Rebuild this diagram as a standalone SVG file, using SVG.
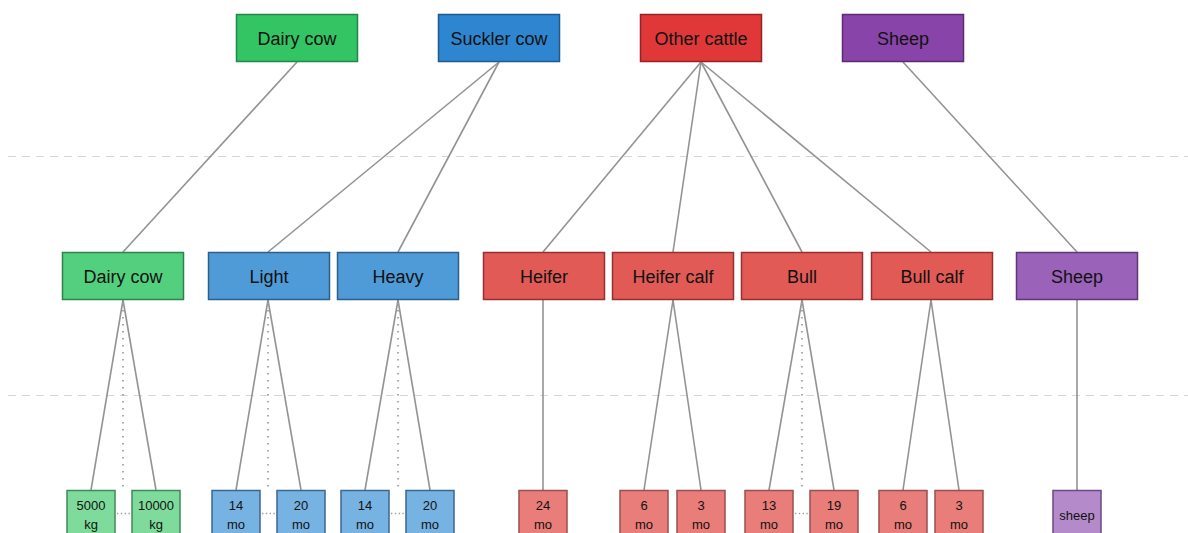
<svg xmlns="http://www.w3.org/2000/svg" width="1188" height="533" viewBox="0 0 1188 533">
<style>
text{font-family:"Liberation Sans",Arial,sans-serif;fill:#111;text-anchor:middle}
.big{font-size:18px}
.sm{font-size:13px}
rect{stroke-width:1.5}
.edge{stroke:#939393;stroke-width:1.6;fill:none}
.dot{stroke:#a0a0a0;stroke-width:1.8;stroke-dasharray:1.6 5.4;fill:none}
.hdot{stroke:#a0a0a0;stroke-width:1.6;stroke-dasharray:1.4 2.4;fill:none}
.guide{stroke:#d6d6d6;stroke-width:1;stroke-dasharray:8 6;fill:none}
.g1{fill:#33c463;stroke:#23864a}.b1{fill:#2f86d0;stroke:#1f5a8f}.r1{fill:#e03838;stroke:#962222}.p1{fill:#8944a9;stroke:#5b2a72}
.g2{fill:#52d07e;stroke:#2f8250}.b2{fill:#4f9bd7;stroke:#2b5f8c}.r2{fill:#e15a55;stroke:#963030}.p2{fill:#9b62b9;stroke:#5e3777}
.g3{fill:#7edb9b;stroke:#3f8a5a}.b3{fill:#77b3e2;stroke:#3a6790}.r3{fill:#e87d79;stroke:#985050}.p3{fill:#b58aca;stroke:#6a4a80}
</style>
<g id="guides">
<line class="guide" x1="8" y1="156.5" x2="1188" y2="156.5"/>
<line class="guide" x1="8" y1="395.5" x2="1188" y2="395.5"/>
</g>
<g id="connectors">
<line class="edge" x1="297" y1="62" x2="123" y2="252"/>
<line class="edge" x1="499" y1="62" x2="268" y2="252"/>
<line class="edge" x1="499" y1="62" x2="398" y2="252"/>
<line class="edge" x1="701" y1="62" x2="543" y2="252"/>
<line class="edge" x1="701" y1="62" x2="673" y2="252"/>
<line class="edge" x1="701" y1="62" x2="802" y2="252"/>
<line class="edge" x1="701" y1="62" x2="931" y2="252"/>
<line class="edge" x1="903" y1="62" x2="1077" y2="252"/>
<line class="edge" x1="123" y1="300" x2="91" y2="490"/>
<line class="edge" x1="123" y1="300" x2="156" y2="490"/>
<line class="dot" x1="123" y1="303" x2="123" y2="490"/>
<line class="hdot" x1="117" y1="513.5" x2="131" y2="513.5"/>
<line class="edge" x1="268" y1="300" x2="236" y2="490"/>
<line class="edge" x1="268" y1="300" x2="301" y2="490"/>
<line class="dot" x1="268" y1="303" x2="268" y2="490"/>
<line class="hdot" x1="262" y1="513.5" x2="276" y2="513.5"/>
<line class="edge" x1="398" y1="300" x2="365" y2="490"/>
<line class="edge" x1="398" y1="300" x2="430" y2="490"/>
<line class="dot" x1="398" y1="303" x2="398" y2="490"/>
<line class="hdot" x1="391" y1="513.5" x2="405" y2="513.5"/>
<line class="edge" x1="543" y1="300" x2="543" y2="490"/>
<line class="edge" x1="673" y1="300" x2="644" y2="490"/>
<line class="edge" x1="673" y1="300" x2="701" y2="490"/>
<line class="edge" x1="802" y1="300" x2="769" y2="490"/>
<line class="edge" x1="802" y1="300" x2="834" y2="490"/>
<line class="dot" x1="802" y1="303" x2="802" y2="490"/>
<line class="hdot" x1="795" y1="513.5" x2="809" y2="513.5"/>
<line class="edge" x1="931" y1="300" x2="903" y2="490"/>
<line class="edge" x1="931" y1="300" x2="959" y2="490"/>
<line class="edge" x1="1077" y1="300" x2="1077" y2="490"/>
</g>
<g id="top-dairy"><rect class="g1" x="236.5" y="14.5" width="121" height="47"/><text class="big" x="297" y="44.5">Dairy cow</text></g>
<g id="top-suckler"><rect class="b1" x="438.5" y="14.5" width="121" height="47"/><text class="big" x="499" y="44.5">Suckler cow</text></g>
<g id="top-other"><rect class="r1" x="640.5" y="14.5" width="121" height="47"/><text class="big" x="701" y="44.5">Other cattle</text></g>
<g id="top-sheep"><rect class="p1" x="842.5" y="14.5" width="121" height="47"/><text class="big" x="903" y="44.5">Sheep</text></g>

<g id="mid-dairy"><rect class="g2" x="62.5" y="252.5" width="121" height="47"/><text class="big" x="123" y="282.5">Dairy cow</text></g>
<g id="mid-light"><rect class="b2" x="208.5" y="252.5" width="121" height="47"/><text class="big" x="269" y="282.5">Light</text></g>
<g id="mid-heavy"><rect class="b2" x="337.5" y="252.5" width="121" height="47"/><text class="big" x="398" y="282.5">Heavy</text></g>
<g id="mid-heifer"><rect class="r2" x="483.5" y="252.5" width="121" height="47"/><text class="big" x="544" y="282.5">Heifer</text></g>
<g id="mid-heifercalf"><rect class="r2" x="612.5" y="252.5" width="121" height="47"/><text class="big" x="673" y="282.5">Heifer calf</text></g>
<g id="mid-bull"><rect class="r2" x="741.5" y="252.5" width="121" height="47"/><text class="big" x="802" y="282.5">Bull</text></g>
<g id="mid-bullcalf"><rect class="r2" x="871.5" y="252.5" width="121" height="47"/><text class="big" x="932" y="282.5">Bull calf</text></g>
<g id="mid-sheep"><rect class="p2" x="1016.5" y="252.5" width="121" height="47"/><text class="big" x="1077" y="282.5">Sheep</text></g>

<g id="b-5000"><rect class="g3" x="67" y="490.5" width="48" height="48"/><text class="sm" x="91" y="510">5000</text><text class="sm" x="91" y="529">kg</text></g>
<g id="b-10000"><rect class="g3" x="132" y="490.5" width="48" height="48"/><text class="sm" x="156" y="510">10000</text><text class="sm" x="156" y="529">kg</text></g>
<g id="b-l14"><rect class="b3" x="212" y="490.5" width="48" height="48"/><text class="sm" x="236" y="510">14</text><text class="sm" x="236" y="529">mo</text></g>
<g id="b-l20"><rect class="b3" x="277" y="490.5" width="48" height="48"/><text class="sm" x="301" y="510">20</text><text class="sm" x="301" y="529">mo</text></g>
<g id="b-h14"><rect class="b3" x="341" y="490.5" width="48" height="48"/><text class="sm" x="365" y="510">14</text><text class="sm" x="365" y="529">mo</text></g>
<g id="b-h20"><rect class="b3" x="406" y="490.5" width="48" height="48"/><text class="sm" x="430" y="510">20</text><text class="sm" x="430" y="529">mo</text></g>
<g id="b-hf24"><rect class="r3" x="519" y="490.5" width="48" height="48"/><text class="sm" x="543" y="510">24</text><text class="sm" x="543" y="529">mo</text></g>
<g id="b-hc6"><rect class="r3" x="620" y="490.5" width="48" height="48"/><text class="sm" x="644" y="510">6</text><text class="sm" x="644" y="529">mo</text></g>
<g id="b-hc3"><rect class="r3" x="677" y="490.5" width="48" height="48"/><text class="sm" x="701" y="510">3</text><text class="sm" x="701" y="529">mo</text></g>
<g id="b-b13"><rect class="r3" x="745" y="490.5" width="48" height="48"/><text class="sm" x="769" y="510">13</text><text class="sm" x="769" y="529">mo</text></g>
<g id="b-b19"><rect class="r3" x="810" y="490.5" width="48" height="48"/><text class="sm" x="834" y="510">19</text><text class="sm" x="834" y="529">mo</text></g>
<g id="b-bc6"><rect class="r3" x="879" y="490.5" width="48" height="48"/><text class="sm" x="903" y="510">6</text><text class="sm" x="903" y="529">mo</text></g>
<g id="b-bc3"><rect class="r3" x="935" y="490.5" width="48" height="48"/><text class="sm" x="959" y="510">3</text><text class="sm" x="959" y="529">mo</text></g>
<g id="b-sheep"><rect class="p3" x="1053" y="490.5" width="48" height="48"/><text class="sm" x="1077" y="520">sheep</text></g>
</svg>
